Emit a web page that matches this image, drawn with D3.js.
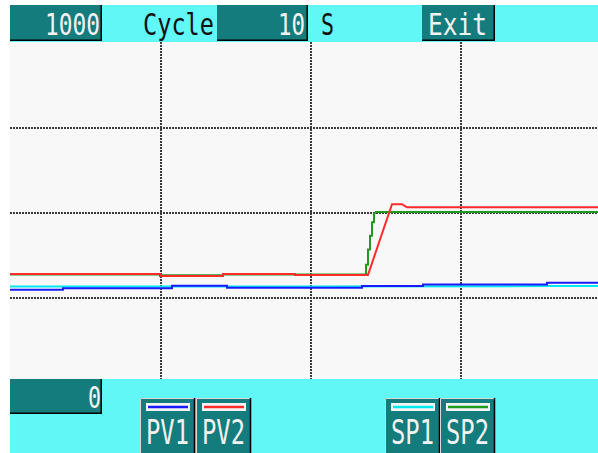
<!DOCTYPE html>
<html>
<head>
<meta charset="utf-8">
<script src="https://cdn.jsdelivr.net/npm/d3@7"></script>
<style>
  html, body { margin: 0; padding: 0; background: #ffffff; }
  svg { display: block; }
  text { font-family: "DejaVu Sans Mono", monospace; }
</style>
</head>
<body>
<svg id="chart" width="598" height="453"></svg>
<script>
// Trend recorder screen: four channels over time, scale 0..1000
const scaleTop = "1000";
const scaleBottom = "0";
const cycleLabel = "Cycle";
const cycleValue = "10";
const cycleUnit = "S";
const exitLabel = "Exit";

const gridTimes = [150, 300, 450];
const gridValues = [250, 500, 750];

const seriesNames = ["SP1", "PV1", "SP2", "PV2"];
const seriesColors = ["#00e8f0", "#1a1aff", "#1f9a1f", "#ff2a2a"];

// [time, value] samples per channel
const sp1 = [[0, 281], [300, 281], [537, 282], [600, 282]];
const pv1 = [[0, 271], [53, 271], [53, 276], [162, 276], [162, 283], [217, 283], [217, 277],
             [352, 277], [352, 282], [413, 282], [413, 287], [537, 287], [537, 292], [600, 292]];
const sp2 = [[0, 316], [150, 316], [150, 314], [213, 314], [213, 316], [355, 316],
             [356, 316], [356, 345], [358, 345], [358, 390], [360, 390], [360, 430],
             [362, 430], [362, 470], [364, 470], [364, 495], [366, 500], [600, 500]];
const pv2 = [[0, 318], [150, 318], [150, 312], [213, 312], [213, 318], [285, 318], [285, 315],
             [358, 315], [382, 523], [392, 523], [397, 514], [600, 514]];
const seriesData = [sp1, pv1, sp2, pv2];

// legend buttons: name, x of left edge
const legendItems = [
  { name: "PV1", color: seriesColors[1], x: 140 },
  { name: "PV2", color: seriesColors[3], x: 196 },
  { name: "SP1", color: seriesColors[0], x: 385 },
  { name: "SP2", color: seriesColors[2], x: 440 }
];

const W = 598, H = 453;
const plot = { left: 10, top: 42, right: 598, bottom: 382 };
const panelFill = "#62f7f7";
const boxFill = "#147c7c";

const svg = d3.select("#chart");
const defs = svg.append("defs");

const x = d3.scaleLinear().domain([0, 600]).range([plot.left, plot.left + 600]);
const y = d3.scaleLinear().domain([0, 1000]).range([plot.bottom, plot.top]);

// plot background
svg.append("rect").attr("x", plot.left).attr("y", plot.top)
  .attr("width", plot.right - plot.left).attr("height", plot.bottom - plot.top)
  .attr("fill", "#f8f8f8");

defs.append("clipPath").attr("id", "plotClip").append("rect")
  .attr("x", plot.left).attr("y", plot.top)
  .attr("width", plot.right - plot.left).attr("height", plot.bottom - plot.top);

// dotted grid via axes
const gridX = svg.append("g").attr("transform", `translate(0,${plot.top})`)
  .call(d3.axisBottom(x).tickValues(gridTimes).tickSize(plot.bottom - plot.top).tickFormat(""));
const gridY = svg.append("g").attr("transform", `translate(${plot.left},0)`)
  .call(d3.axisRight(y).tickValues(gridValues).tickSize(plot.right - plot.left).tickFormat(""));
[gridX, gridY].forEach(g => {
  g.select(".domain").remove();
  g.selectAll(".tick line").attr("stroke", "#3a3a3a").attr("stroke-width", 2)
    .attr("stroke-dasharray", "2,1").attr("shape-rendering", "crispEdges");
});

// channel traces
const line = d3.line().x(d => x(d[0])).y(d => y(d[1]));
svg.append("g").attr("clip-path", "url(#plotClip)")
  .selectAll("path").data(seriesData).join("path")
  .attr("d", line).attr("fill", "none")
  .attr("stroke", (d, i) => seriesColors[i]).attr("stroke-width", 2);

function lightPanel(x0, y0, w, h) {
  svg.append("rect").attr("x", x0).attr("y", y0).attr("width", w).attr("height", h).attr("fill", panelFill);
}

function darkBox(x0, y0, w, h) {
  svg.append("rect").attr("x", x0).attr("y", y0).attr("width", w).attr("height", h).attr("fill", boxFill);
  svg.append("path").attr("d", `M${x0},${y0 + h - 0.75}H${x0 + w - 0.75}V${y0}`)
    .attr("fill", "none").attr("stroke", "#000").attr("stroke-width", 1.5);
}

function label(txt, xPos, yPos, len, color, size) {
  svg.append("text").attr("x", xPos).attr("y", yPos).text(txt)
    .attr("fill", color).attr("font-size", size)
    .attr("textLength", len).attr("lengthAdjust", "spacingAndGlyphs");
}

// top bar
lightPanel(10, 5, W - 10, 37);
darkBox(10, 5, 92, 36);
darkBox(217, 5, 91, 36);
darkBox(422, 5, 73, 36);

label(scaleTop, 45, 35, 55, "#f2f2f2", 31);
label(cycleLabel, 143, 35, 71, "#111", 31);
label(cycleValue, 278, 35, 27, "#f2f2f2", 31);
label(cycleUnit, 321, 35, 13, "#111", 31);
label(exitLabel, 428, 35, 59, "#f2f2f2", 31);

// bottom bar
lightPanel(10, 379, W - 10, H - 379);
darkBox(10, 379, 92, 35);
label(scaleBottom, 88, 408, 13, "#f2f2f2", 31);

// legend buttons
const btn = svg.append("g").selectAll("g").data(legendItems).join("g")
  .attr("transform", d => `translate(${d.x},398)`);
btn.append("rect").attr("width", 55).attr("height", 55).attr("fill", boxFill);
btn.append("path").attr("d", "M0.5,55V0.5H54").attr("fill", "none").attr("stroke", "#d8d8d8").attr("stroke-width", 1);
btn.append("path").attr("d", "M54.5,0V55").attr("fill", "none").attr("stroke", "#000").attr("stroke-width", 1.5);
btn.append("rect").attr("x", 6).attr("y", 5).attr("width", 44).attr("height", 8)
  .attr("fill", "#f4f4f4");
btn.append("line").attr("x1", 8).attr("x2", 48).attr("y1", 9).attr("y2", 9)
  .attr("stroke", d => d.color).attr("stroke-width", 2.5);
btn.append("text").attr("x", 6).attr("y", 46).text(d => d.name)
  .attr("fill", "#f2f2f2").attr("font-size", 33)
  .attr("textLength", 43).attr("lengthAdjust", "spacingAndGlyphs");
</script>
</body>
</html>
